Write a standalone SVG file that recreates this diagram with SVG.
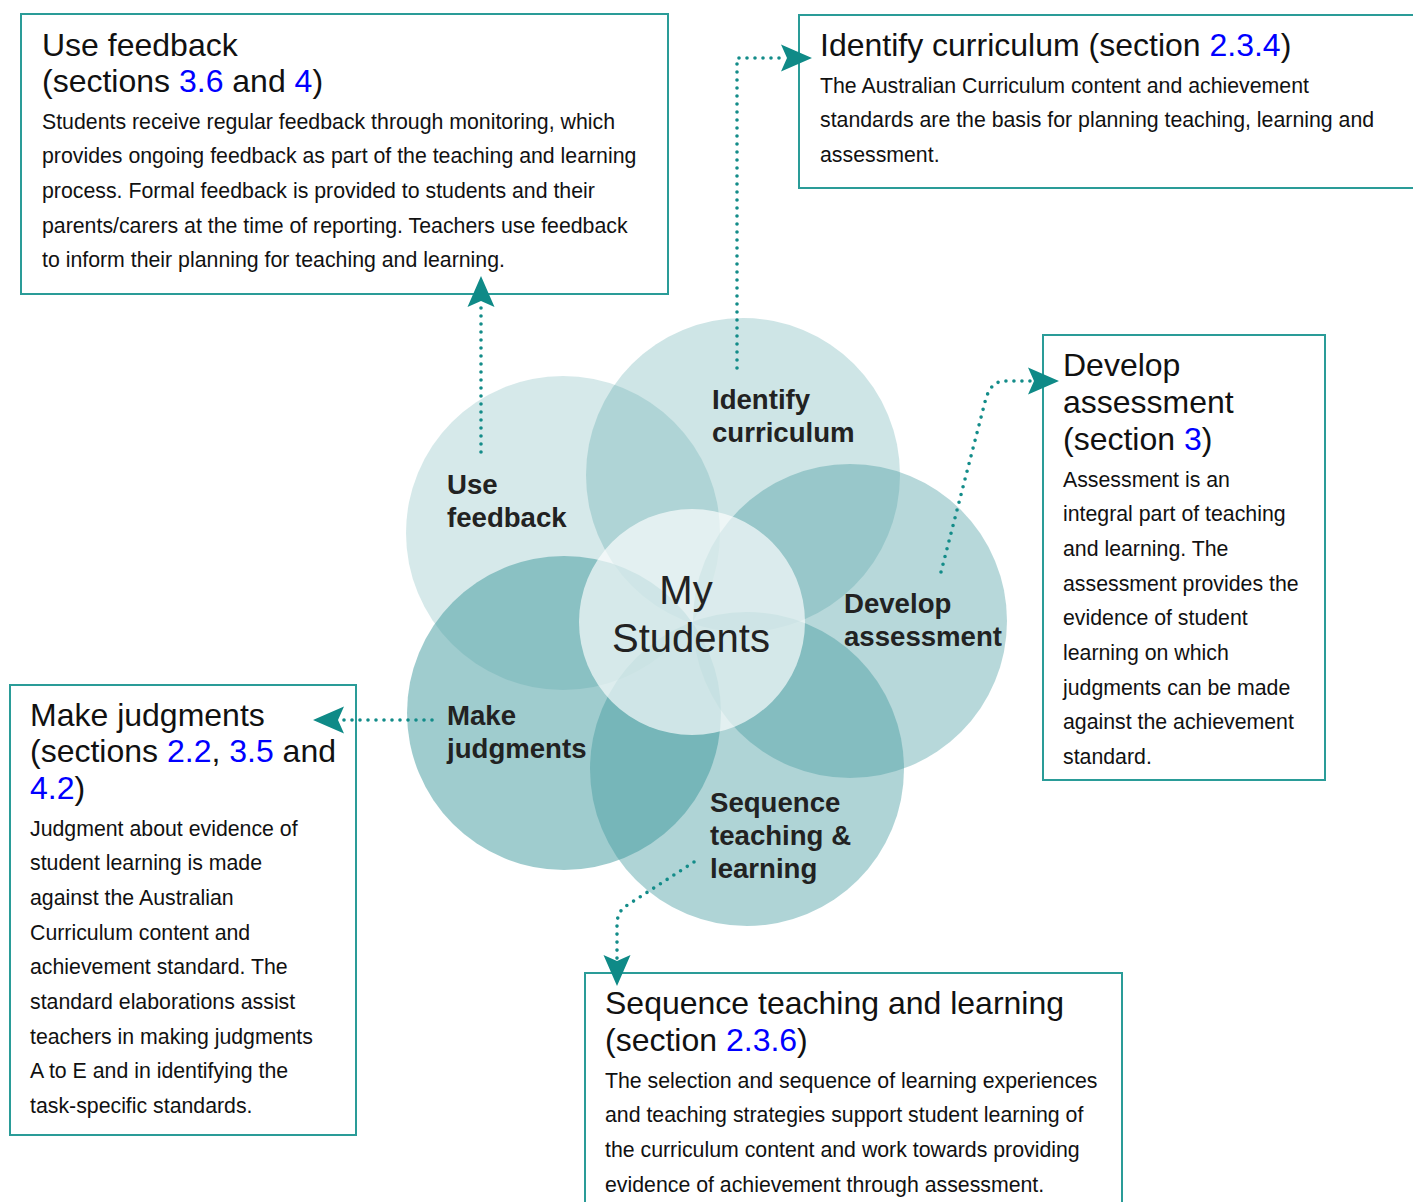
<svg xmlns="http://www.w3.org/2000/svg" width="1413" height="1202" viewBox="0 0 1413 1202">
<style>
text{font-family:"Liberation Sans",Arial,sans-serif;fill:#111}
.t{font-size:32px}
.b{font-size:21.3px}
.lk{fill:#0000ff}
.lab{font-size:27.6px;font-weight:bold;fill:#222}
.ms{font-size:40px;fill:#222}
.box{fill:#fff;stroke:#2a9c98;stroke-width:2}
.pet{fill:#3c969b}
.con{fill:none;stroke:#138c89;stroke-width:3.6;stroke-linecap:round;stroke-dasharray:0 8;marker-end:url(#ah)}
</style>
<defs>
<marker id="ah" markerUnits="userSpaceOnUse" markerWidth="32" markerHeight="29" viewBox="0 0 32 29" refX="6" refY="14.5" orient="auto">
<path d="M0,1 L31,14.5 L0,28 L6,14.5 Z" fill="#0f8a87"/>
</marker>
</defs>
<rect width="1413" height="1202" fill="#fff"/>
<g id="flower">
<circle class="pet" cx="563" cy="533" r="157" opacity="0.21"/>
<circle class="pet" cx="743" cy="475" r="157" opacity="0.25"/>
<circle class="pet" cx="850" cy="621" r="157" opacity="0.37"/>
<circle class="pet" cx="747" cy="769" r="157" opacity="0.41"/>
<circle class="pet" cx="564" cy="713" r="157" opacity="0.49"/>
<circle cx="692" cy="622" r="113" fill="#fff" opacity="0.65"/>
<text class="lab" x="712" y="409">Identify</text>
<text class="lab" x="712" y="442">curriculum</text>
<text class="lab" x="447" y="494">Use</text>
<text class="lab" x="447" y="527">feedback</text>
<text class="lab" x="844" y="613">Develop</text>
<text class="lab" x="844" y="646">assessment</text>
<text class="lab" x="447" y="725">Make</text>
<text class="lab" x="447" y="758">judgments</text>
<text class="lab" x="710" y="812">Sequence</text>
<text class="lab" x="710" y="845">teaching &amp;</text>
<text class="lab" x="710" y="878">learning</text>
<text class="ms" x="686" y="604" text-anchor="middle">My</text>
<text class="ms" x="691" y="652" text-anchor="middle">Students</text>
</g>
<g id="use-feedback">
<rect class="box" x="21" y="14" width="647" height="280"/>
<text class="t" x="42" y="55.5">Use feedback</text>
<text class="t" x="42" y="91.5">(sections <tspan class="lk">3.6</tspan> and <tspan class="lk">4</tspan>)</text>
<text class="b" x="42" y="128.5">Students receive regular feedback through monitoring, which</text>
<text class="b" x="42" y="163.2">provides ongoing feedback as part of the teaching and learning</text>
<text class="b" x="42" y="197.9">process. Formal feedback is provided to students and their</text>
<text class="b" x="42" y="232.6">parents/carers at the time of reporting. Teachers use feedback</text>
<text class="b" x="42" y="267.3">to inform their planning for teaching and learning.</text>
</g>
<g id="identify-curriculum">
<rect class="box" x="799" y="15" width="630" height="173"/>
<text class="t" x="820" y="55.5">Identify curriculum (section <tspan class="lk">2.3.4</tspan>)</text>
<text class="b" x="820" y="92.5">The Australian Curriculum content and achievement</text>
<text class="b" x="820" y="127.2">standards are the basis for planning teaching, learning and</text>
<text class="b" x="820" y="161.9">assessment.</text>
</g>
<g id="develop-assessment">
<rect class="box" x="1043" y="335" width="282" height="445"/>
<text class="t" x="1063" y="375.5">Develop</text>
<text class="t" x="1063" y="412.5">assessment</text>
<text class="t" x="1063" y="449.5">(section <tspan class="lk">3</tspan>)</text>
<text class="b" x="1063" y="486.5">Assessment is an</text>
<text class="b" x="1063" y="521.2">integral part of teaching</text>
<text class="b" x="1063" y="555.9">and learning. The</text>
<text class="b" x="1063" y="590.6">assessment provides the</text>
<text class="b" x="1063" y="625.3">evidence of student</text>
<text class="b" x="1063" y="660">learning on which</text>
<text class="b" x="1063" y="694.7">judgments can be made</text>
<text class="b" x="1063" y="729.4">against the achievement</text>
<text class="b" x="1063" y="764.1">standard.</text>
</g>
<g id="make-judgments">
<rect class="box" x="10" y="685" width="346" height="450"/>
<text class="t" x="30" y="725.5">Make judgments</text>
<text class="t" x="30" y="761.5">(sections <tspan class="lk">2.2</tspan>, <tspan class="lk">3.5</tspan> and</text>
<text class="t" x="30" y="798.5"><tspan class="lk">4.2</tspan>)</text>
<text class="b" x="30" y="835.5">Judgment about evidence of</text>
<text class="b" x="30" y="870.2">student learning is made</text>
<text class="b" x="30" y="904.9">against the Australian</text>
<text class="b" x="30" y="939.6">Curriculum content and</text>
<text class="b" x="30" y="974.3">achievement standard. The</text>
<text class="b" x="30" y="1009">standard elaborations assist</text>
<text class="b" x="30" y="1043.7">teachers in making judgments</text>
<text class="b" x="30" y="1078.4">A to E and in identifying the</text>
<text class="b" x="30" y="1113.1">task-specific standards.</text>
</g>
<g id="sequence-teaching">
<rect class="box" x="585" y="973" width="537" height="240"/>
<text class="t" x="605" y="1013.5">Sequence teaching and learning</text>
<text class="t" x="605" y="1050.5">(section <tspan class="lk">2.3.6</tspan>)</text>
<text class="b" x="605" y="1087.5">The selection and sequence of learning experiences</text>
<text class="b" x="605" y="1122.2">and teaching strategies support student learning of</text>
<text class="b" x="605" y="1156.9">the curriculum content and work towards providing</text>
<text class="b" x="605" y="1191.6">evidence of achievement through assessment.</text>
</g>
<g id="connectors">
<path class="con" d="M481,452 L481,301"/>
<path class="con" d="M737,368 L737,58 L787,58"/>
<path class="con" d="M941,572 L985,402 Q990,381 1005,381 L1034,381"/>
<path class="con" d="M432,720 L338,720"/>
<path class="con" d="M694,862 L626,906 Q617,912 617,925 L617,961"/>
</g>
</svg>
